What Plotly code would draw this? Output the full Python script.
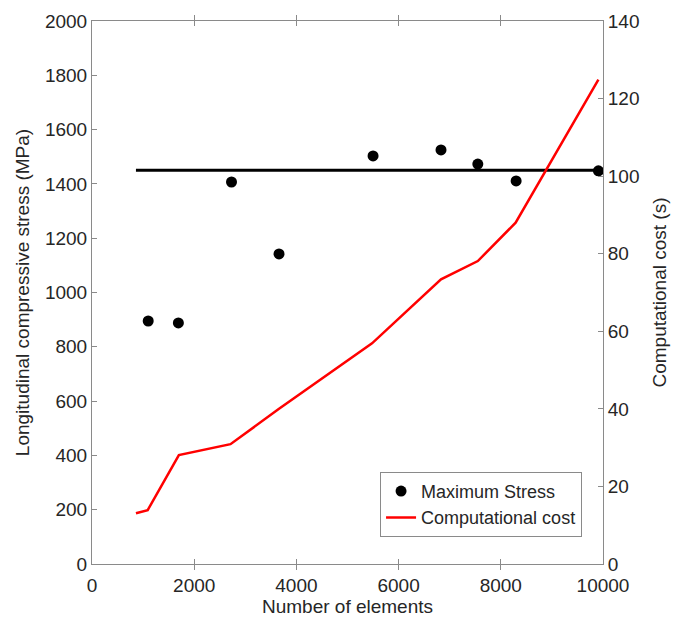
import plotly.graph_objects as go

# Data
stress_elements = [1100, 1690, 2730, 3660, 5500, 6830, 7550, 8300, 9910]
stress_values = [895, 888, 1407, 1142, 1503, 1525, 1473, 1411, 1448]

ref_x = [860, 10000]
ref_y = [1450, 1450]

cost_elements = [860, 1090, 1700, 2710, 3660, 5480, 6830, 7550, 8290, 9910]
cost_values = [13.1, 13.9, 28.1, 30.9, 40.0, 56.9, 73.4, 78.1, 88.0, 124.9]

x_ticks = [0, 2000, 4000, 6000, 8000, 10000]
x_tick_labels = ["0", "2000", "4000", "6000", "8000", "10000"]
y1_ticks = [0, 200, 400, 600, 800, 1000, 1200, 1400, 1600, 1800, 2000]
y2_ticks = [0, 20, 40, 60, 80, 100, 120, 140]

FONT = "Liberation Sans, Arial, sans-serif"
TXT = "#262626"
AX = "#8a8a8a"

fig = go.Figure()
fig.add_trace(go.Scatter(x=ref_x, y=ref_y, mode="lines",
                         line=dict(color="black", width=3),
                         showlegend=False, hoverinfo="skip"))
fig.add_trace(go.Scatter(x=stress_elements, y=stress_values, mode="markers",
                         name="Maximum Stress",
                         marker=dict(color="black", size=11)))
fig.add_trace(go.Scatter(x=cost_elements, y=cost_values, mode="lines",
                         name="Computational cost", yaxis="y2",
                         line=dict(color="#ff0000", width=2.5)))

fig.update_layout(
    width=673, height=618,
    margin=dict(l=92, r=70, t=21, b=54),
    plot_bgcolor="white", paper_bgcolor="white",
    font=dict(family=FONT, size=19, color=TXT),
    xaxis=dict(range=[0, 10000], tickvals=x_ticks, ticktext=x_tick_labels,
               ticks="inside", ticklen=5, automargin=False, ticklabelstandoff=4,
               tickcolor=AX, showline=True, linecolor=AX, linewidth=1,
               mirror="allticks", showgrid=False, zeroline=False,
               title=dict(text="Number of elements", font=dict(size=19), standoff=0),
               tickfont=dict(size=19, color=TXT)),
    yaxis=dict(range=[0, 2000], tickvals=y1_ticks, ticks="inside", ticklen=5,
               automargin=False,
               tickcolor=AX, showline=True, linecolor=AX, linewidth=1,
               showgrid=False, zeroline=False,
               title=dict(text="Longitudinal compressive stress (MPa)", font=dict(size=19), standoff=10),
               tickfont=dict(size=19, color=TXT)),
    yaxis2=dict(range=[0, 140], tickvals=y2_ticks, ticks="inside", ticklen=5,
                automargin=False,
                tickcolor=AX, showline=True, linecolor=AX, linewidth=1,
                overlaying="y", side="right", showgrid=False, zeroline=False,
                title=dict(text="Computational cost (s)", font=dict(size=19), standoff=14),
                tickfont=dict(size=19, color=TXT)),
    legend=dict(x=0.959, y=0.05, xanchor="right", yanchor="bottom",
                bordercolor=AX, borderwidth=1, bgcolor="white",
                font=dict(size=18, color=TXT), tracegroupgap=0),
)

fig.write_html("out.html")
